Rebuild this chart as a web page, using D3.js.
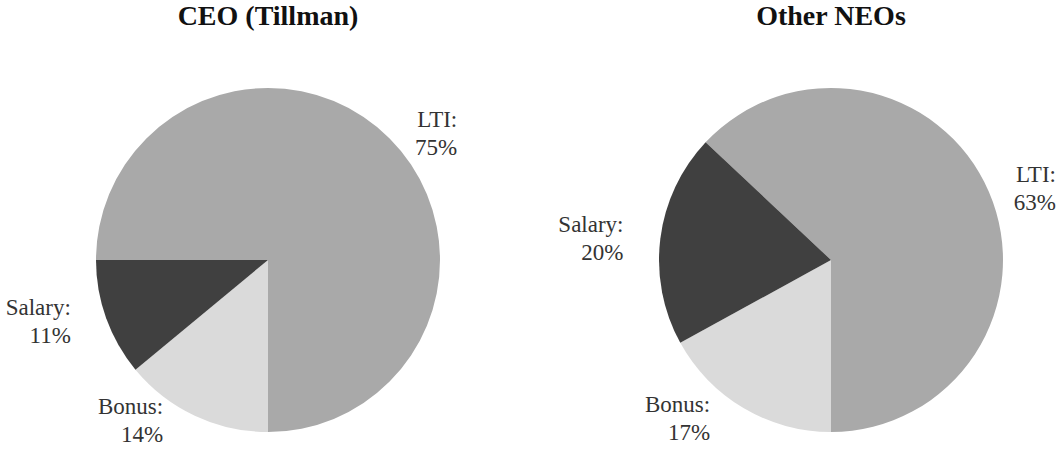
<html>
<script src='https://d3js.org/d3.v7.min.js'></script>
<style>
  body { margin: 0; background: #fff; }
  text { font-family: "Liberation Serif", "Times New Roman", serif; }
</style>
<body>
<svg width=1062 height=450 id="viz"></svg>
<script>
var pieTitles = ["CEO (Tillman)", "Other NEOs"];
var categories = ["LTI", "Bonus", "Salary"];
var ceoValues = [75, 14, 11];
var neoValues = [63, 17, 20];

var colors = { LTI: "#a9a9a9", Bonus: "#dadada", Salary: "#404040" };
// label offsets: extra angle (deg) from slice middle, distance from centre
var ceoLabelPos = [[8.2, 210], [15.2, 212], [4.7, 238]];
var neoLabelPos = [[4.1, 216], [13.4, 221], [-2.2, 241]];

var width = 1062;
var height = 450;
var radius = 172;
var cy = 260;

var svg = d3.select("#viz");

var xc = d3.scalePoint()
  .domain(pieTitles)
  .range([268, 831]);

var arc = d3.arc()
  .innerRadius(0)
  .outerRadius(radius);

function drawPie(title, values, labelPos) {
  var total = d3.sum(values);
  var start = Math.PI - 2 * Math.PI * values[0] / total;
  var pie = d3.pie()
    .sort(null)
    .value(function(d) { return d.value })
    .startAngle(start)
    .endAngle(start + 2 * Math.PI);

  var data = categories.map(function(c, i) {
    return { name: c, value: values[i], pos: labelPos[i] }
  });

  var g = svg.append("g")
    .attr("transform", "translate(" + xc(title) + "," + cy + ")");

  g.selectAll("path")
    .data(pie(data))
    .enter()
    .append("path")
      .attr("d", arc)
      .attr("fill", function(d) { return colors[d.data.name] })
      .attr("stroke", "none");

  svg.append("text")
    .attr("x", xc(title))
    .attr("y", 25)
    .attr("text-anchor", "middle")
    .attr("font-size", 28)
    .attr("font-weight", "bold")
    .attr("fill", "#111")
    .text(title);

  pie(data).forEach(function(d) {
    var a = (d.startAngle + d.endAngle) / 2 + d.data.pos[0] * Math.PI / 180;
    var lx = Math.sin(a) * d.data.pos[1];
    var ly = -Math.cos(a) * d.data.pos[1];
    var t = g.append("text")
      .attr("font-size", 23)
      .attr("fill", "#333")
      .attr("text-anchor", "end");
    var l1 = t.append("tspan").text(d.data.name + ":");
    var l2 = t.append("tspan").text(d.data.value + "%");
    var w = Math.max(l1.node().getComputedTextLength(), l2.node().getComputedTextLength());
    l1.attr("x", lx + w / 2).attr("y", ly - 7);
    l2.attr("x", lx + w / 2).attr("y", ly + 21);
  });
}

drawPie(pieTitles[0], ceoValues, ceoLabelPos);
drawPie(pieTitles[1], neoValues, neoLabelPos);
</script>
</body>
</html>
